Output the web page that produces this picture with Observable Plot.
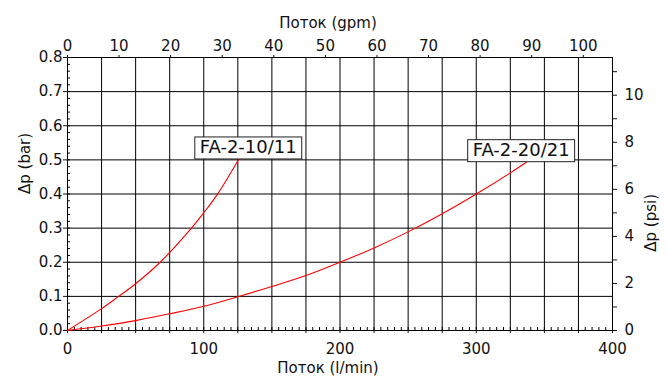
<!DOCTYPE html>
<html><head><meta charset="utf-8">
<script src="https://cdn.jsdelivr.net/npm/d3@7"></script>
<script src="https://cdn.jsdelivr.net/npm/@observablehq/plot@0.6"></script>
<style>
body{margin:0;background:#fff}
#chart svg{font-family:"DejaVu Sans",sans-serif;overflow:visible}
</style>
</head><body><div id="chart"></div>
<script>
// ---- data ----
const seriesNames = ["FA-2-10/11", "FA-2-20/21"];
const flow1 = [0, 25, 37.5, 50, 68, 91, 100, 110, 125.7];
const dp1   = [0, 0.064, 0.1, 0.137, 0.2, 0.3, 0.345, 0.399, 0.502];
const flow2 = [0, 25, 50, 75, 100, 125, 150, 175, 200, 225, 250, 275, 300, 325, 337];
const dp2   = [0, 0.013, 0.029, 0.049, 0.071, 0.099, 0.129, 0.161, 0.2, 0.242, 0.289, 0.342, 0.4, 0.462, 0.494];

const lminLabelTicks = [0, 100, 200, 300, 400];
const lminGridTicks = d3.range(0, 401, 25);
const lminMinorTicks = d3.range(0, 401, 5);
const barTicks = [0, 0.1, 0.2, 0.3, 0.4, 0.5, 0.6, 0.7, 0.8];
const barMinorTicks = d3.range(0, 41).map(i => i / 50);
const gpmTicks = [0, 10, 20, 30, 40, 50, 60, 70, 80, 90, 100];
const psiTicks = [0, 1, 2, 3, 4, 5, 6, 7, 8, 9, 10, 11];

const LPM_PER_GPM = 3.785411784;
const PSI_PER_BAR = 14.5037738;

const rows = [
  ...flow1.map((q, i) => ({series: seriesNames[0], q, dp: dp1[i]})),
  ...flow2.map((q, i) => ({series: seriesNames[1], q, dp: dp2[i]}))
];
const end1 = {q: flow1[flow1.length - 1], dp: dp1[dp1.length - 1], name: seriesNames[0]};
const end2 = {q: flow2[flow2.length - 1], dp: dp2[dp2.length - 1], name: seriesNames[1]};

const W = 668, H = 383, ML = 67, MR = 56, MT = 57, MB = 53;
const PW = W - ML - MR, PH = H - MT - MB;
const ink = "#111";

const chart = Plot.plot({
  width: W, height: H,
  marginLeft: ML, marginRight: MR, marginTop: MT, marginBottom: MB,
  style: {fontFamily: "'DejaVu Sans', sans-serif", fontSize: "15px", color: ink, background: "#fff"},
  x: {domain: [0, 400]},
  y: {domain: [0, 0.8]},
  marks: [
    Plot.gridX(lminGridTicks, {stroke: "#000", strokeOpacity: 1, strokeWidth: 1}),
    Plot.gridY(barTicks, {stroke: "#000", strokeOpacity: 1, strokeWidth: 1}),
    Plot.ruleX(lminMinorTicks, {stroke: "#000", insetTop: PH - 3}),
    Plot.ruleY(barMinorTicks, {stroke: "#000", insetRight: PW - 3}),
    Plot.frame({stroke: "#000", strokeWidth: 1}),
    Plot.axisX(lminGridTicks, {anchor: "bottom", tickSize: 3, tickPadding: 10, label: null,
      tickFormat: d => lminLabelTicks.includes(d) ? String(d) : ""}),
    Plot.axisX(gpmTicks.map(g => g * LPM_PER_GPM), {anchor: "top", tickSize: 3, tickPadding: 4, label: null,
      tickFormat: d => String(Math.round(d / LPM_PER_GPM))}),
    Plot.axisY(barTicks, {anchor: "left", tickSize: 4, tickPadding: 1, label: null,
      tickFormat: d => d.toFixed(1)}),
    Plot.axisY(psiTicks.map(p => p / PSI_PER_BAR), {anchor: "right", tickSize: 4, tickPadding: 8, label: null,
      tickFormat: d => { const p = Math.round(d * PSI_PER_BAR); return p % 2 ? "" : String(p); }}),
    Plot.line(rows, {x: "q", y: "dp", z: "series", stroke: "#ff0000", strokeWidth: 1.1, curve: "catmull-rom"}),
    Plot.text([end1], {x: "q", y: "dp", text: "name", dx: 9.5, dy: -11.5, fontSize: 18, fill: ink}),
    Plot.text([end2], {x: "q", y: "dp", text: "name", dx: -5.5, dy: -11.5, fontSize: 18, fill: ink}),
    Plot.text(["Поток (gpm)"], {frameAnchor: "top", dx: -12, dy: -40, fontSize: 15, fill: ink}),
    Plot.text(["Поток (l/min)"], {frameAnchor: "bottom", dx: -12, dy: 42, fontSize: 15, fill: ink}),
    Plot.text(["Δp (bar)"], {frameAnchor: "left", dx: -42, rotate: -90, fontSize: 15, fill: ink}),
    Plot.text(["Δp (psi)"], {frameAnchor: "right", dx: 39, rotate: -90, fontSize: 15, fill: ink})
  ]
});
document.getElementById("chart").appendChild(chart);

// white boxed background behind curve labels
Array.from(chart.querySelectorAll("text"))
  .filter(t => seriesNames.includes(t.textContent.trim()))
  .forEach(t => {
    const b = t.getBBox();
    const r = document.createElementNS("http://www.w3.org/2000/svg", "rect");
    r.setAttribute("x", b.x - 5);
    r.setAttribute("y", b.y + 0.5);
    r.setAttribute("width", b.width + 10);
    r.setAttribute("height", b.height + 1);
    r.setAttribute("fill", "#fff");
    r.setAttribute("stroke", "#222");
    r.setAttribute("stroke-width", 1);
    if (t.getAttribute("transform")) r.setAttribute("transform", t.getAttribute("transform"));
    t.parentNode.insertBefore(r, t);
  });
</script>
</body></html>
